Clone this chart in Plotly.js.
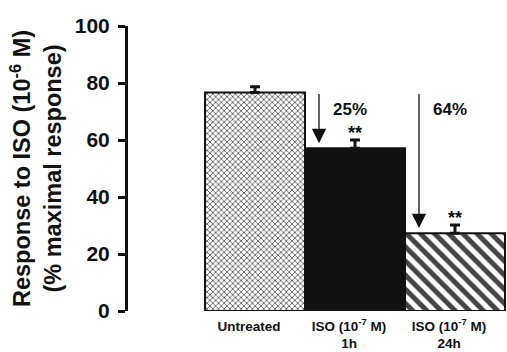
<!DOCTYPE html>
<html>
<head>
<meta charset="utf-8">
<script src="https://cdn.plot.ly/plotly-3.0.1.min.js"></script>
<style>html,body{margin:0;padding:0;background:#fff;}#chart{width:507px;height:352px;}</style>
</head>
<body>
<div id="chart"></div>
<script>
const categories = ['Untreated', 'ISO 1h', 'ISO 24h'];
const tickLabels = ['Untreated', 'ISO (10<sup>-7</sup> M)<br>1h', 'ISO (10<sup>-7</sup> M)<br>24h'];
const responseValues = [76.7, 57.1, 27.3];
const errorValues = [2.0, 2.9, 2.9];
const reductionLabels = ['', '25%', '64%'];
const significance = ['', '**', '**'];
const yTickValues = [0, 20, 40, 60, 80, 100];

const xIdx = categories.map((c, i) => i);
const FONT = 'Liberation Sans, Arial, sans-serif';

const trace = {
  type: 'bar',
  x: xIdx,
  y: responseValues,
  width: 1,
  cliponaxis: false,
  marker: {
    color: ['white', '#111111', 'white'],
    line: {color: '#111111', width: 2},
    pattern: {
      shape: ['x', '', '\\'],
      size: [4, 8, 10],
      solidity: [0.35, 0.5, 0.5],
      fgcolor: ['#1a1a1a', '#111111', '#111111'],
      bgcolor: ['white', '#111111', 'white'],
      fgopacity: 1,
      fillmode: 'overlay'
    }
  },
  error_y: {
    type: 'data', symmetric: false,
    array: errorValues, arrayminus: errorValues.map(() => 0),
    thickness: 3, width: 5, color: '#111111'
  },
  hoverinfo: 'skip'
};

const annotations = [];
for (let i = 1; i < categories.length; i++) {
  annotations.push({
    x: i - 0.36, y: responseValues[i] + 1.8,
    xref: 'x', yref: 'y', axref: 'x', ayref: 'y',
    ax: i - 0.36, ay: responseValues[0],
    showarrow: true, arrowhead: 2, arrowsize: 2.2, arrowwidth: 1.3, arrowcolor: '#111',
    text: ''
  });
  annotations.push({
    x: i - 0.05, y: responseValues[0] - 6, xref: 'x', yref: 'y',
    text: '<b>' + reductionLabels[i] + '</b>', showarrow: false,
    font: {family: FONT, size: 17, color: '#111'}
  });
  annotations.push({
    x: i, y: responseValues[i] + errorValues[i] + 2.4, xref: 'x', yref: 'y',
    text: '<b>' + significance[i] + '</b>', showarrow: false, yanchor: 'middle',
    font: {family: FONT, size: 18, color: '#111'}
  });
}

const layout = {
  width: 507, height: 352,
  margin: {l: 128, r: 0, t: 26, b: 41},
  paper_bgcolor: 'white', plot_bgcolor: 'white',
  showlegend: false,
  bargap: 0,
  xaxis: {
    range: [-1.27, 2.52],
    tickvals: xIdx, ticktext: tickLabels,
    ticklabelshift: -6,
    ticklabelstandoff: 5,
    showline: false, showgrid: false, zeroline: false, ticks: '',
    tickfont: {family: FONT, size: 13.5, color: '#111', weight: 'bold'},
    fixedrange: true
  },
  yaxis: {
    range: [0, 100],
    tickvals: yTickValues,
    showline: true, linecolor: '#111', linewidth: 3,
    ticks: 'outside', ticklen: 7, tickwidth: 3, tickcolor: '#111',
    ticklabelstandoff: 4,
    showgrid: false, zeroline: false,
    tickfont: {family: FONT, size: 21, color: '#111', weight: 'bold'},
    title: {
      text: 'Response to ISO (10<sup>-6</sup> M)<br>(% maximal response)',
      font: {family: FONT, size: 23.5, color: '#111', weight: 'bold'},
      standoff: 7
    },
    fixedrange: true
  },
  annotations: annotations
};

Plotly.newPlot('chart', [trace], layout, {staticPlot: true, displayModeBar: false});
</script>
</body>
</html>
